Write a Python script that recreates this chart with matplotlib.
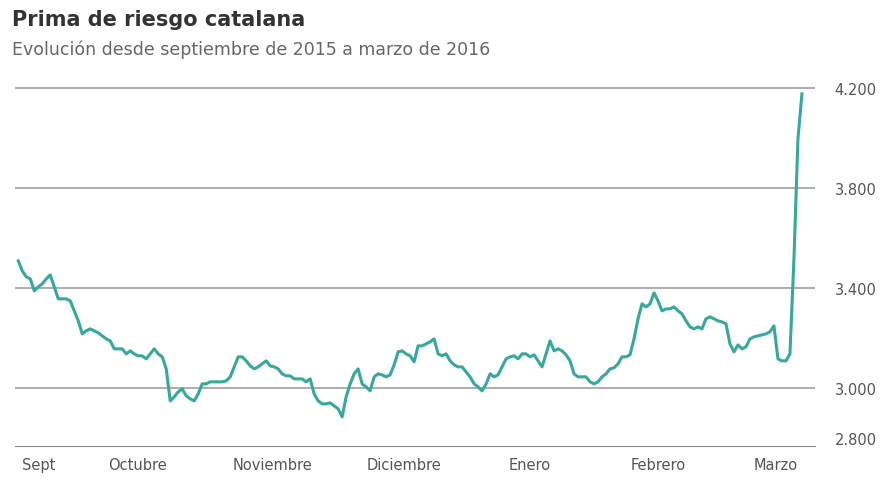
import numpy as np
import matplotlib.pyplot as plt

# Prima de riesgo catalana, sept 2015 - marzo 2016 (basis points)
values = [3508, 3468, 3444, 3436, 3388, 3404, 3416, 3436, 3452, 3404, 3356, 3356, 3356, 3348, 3308,
          3268, 3216, 3228, 3236, 3228, 3220, 3208, 3196, 3188, 3156, 3156, 3156, 3136, 3148, 3136,
          3128, 3128, 3116, 3136, 3156, 3136, 3124, 3076, 2948, 2964, 2984, 2996, 2968, 2956, 2948,
          2976, 3016, 3016, 3024, 3024, 3024, 3024, 3028, 3044, 3084, 3124, 3124, 3108, 3088, 3076,
          3084, 3096, 3108, 3088, 3084, 3076, 3056, 3048, 3048, 3036, 3036, 3036, 3024, 3036, 2976,
          2948, 2936, 2936, 2940, 2928, 2916, 2884, 2964, 3016, 3056, 3076, 3016, 3004, 2988, 3044,
          3056, 3052, 3044, 3052, 3092, 3144, 3148, 3136, 3128, 3104, 3168, 3168, 3176, 3184, 3196,
          3136, 3128, 3136, 3108, 3092, 3084, 3084, 3064, 3044, 3016, 3004, 2988, 3016, 3056, 3044,
          3052, 3084, 3116, 3124, 3128, 3116, 3136, 3136, 3124, 3132, 3108, 3084, 3136, 3188, 3148,
          3156, 3148, 3132, 3108, 3056, 3044, 3044, 3044, 3024, 3016, 3024, 3044, 3056, 3076, 3080,
          3096, 3124, 3124, 3132, 3196, 3276, 3336, 3324, 3336, 3380, 3348, 3308, 3316, 3316, 3324,
          3308, 3296, 3268, 3244, 3236, 3244, 3236, 3276, 3284, 3276, 3268, 3264, 3256, 3176, 3144,
          3172, 3156, 3164, 3196, 3204, 3208, 3212, 3216, 3224, 3248, 3116, 3108, 3108, 3136, 3516,
          3996, 4176]
months = ['Sept', 'Octubre', 'Noviembre', 'Diciembre', 'Enero', 'Febrero', 'Marzo']
month_pos = [0.026, 0.152, 0.325, 0.492, 0.653, 0.816, 0.967]
yticks = [2800, 3000, 3400, 3800, 4200]

fig = plt.figure(figsize=(8.91, 4.81), dpi=100)
ax = fig.add_axes([0.017, 0.071, 0.898, 0.763])
x = np.linspace(0, 1, len(values))
ax.plot(x, values, color='#36a99b', lw=2.2, solid_joinstyle='round')

ax.set_xlim(-0.004, 1.017)
ax.set_ylim(2768, 4236)
for v in [3000, 3400, 3800, 4200]:
    ax.axhline(v, color='#a0a0a0', lw=1.2, zorder=0)

ax.yaxis.tick_right()
ax.set_yticks(yticks)
ax.set_yticklabels(['{:,}'.format(v).replace(',', '.') for v in yticks],
                   color='#555555', fontsize=10.5)
ax.set_xticks(month_pos)
ax.set_xticklabels(months, color='#555555', fontsize=10.5)
ax.tick_params(length=0, pad=8)
ax.tick_params(axis='y', pad=14)
for s in ['top', 'left', 'right']:
    ax.spines[s].set_visible(False)
ax.spines['bottom'].set_color('#888888')

fig.text(0.013, 0.945, 'Prima de riesgo catalana', fontsize=15, fontweight='bold', color='#333333')
fig.text(0.013, 0.885, 'Evolución desde septiembre de 2015 a marzo de 2016', fontsize=12.5, color='#666666')

fig.savefig('out.png', dpi=100)
